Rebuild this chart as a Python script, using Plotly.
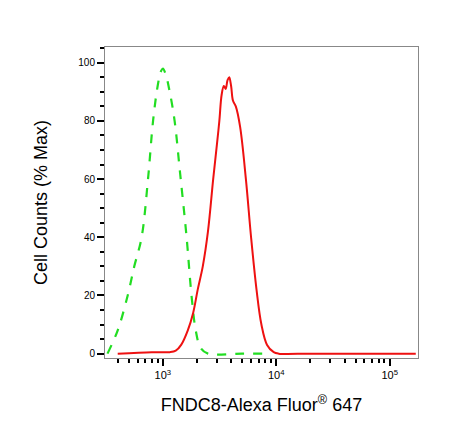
import plotly.graph_objects as go

iso_x = [325, 400, 490, 560, 650, 740, 820, 900, 960, 1000, 1060, 1150, 1270, 1420, 1620, 1790, 1950, 2150, 2500, 5000, 9000]
iso_y = [0, 8, 20, 30, 40, 60, 80, 92, 97, 98, 96, 90, 80, 62, 40, 20, 8, 2, 0, 0, 0]

ab_x = [400, 800, 1150, 1300, 1450, 1660, 1850, 2030, 2250, 2500, 2780, 3000, 3150, 3300, 3450, 3580, 3720, 3850, 4000, 4150, 4400, 4800, 5400, 6000, 6700, 7400, 8300, 9500, 10500, 20000, 60000, 170000]
ab_y = [0, 0.5, 0.5, 1, 3, 8, 14, 22, 30, 42, 60, 72, 80, 89, 92, 91, 94, 95, 92, 87, 85, 78, 60, 40, 22, 10, 3, 0.5, 0, 0, 0, 0]

fig = go.Figure()
fig.add_trace(go.Scatter(x=iso_x, y=iso_y, mode="lines", line=dict(color="#22dd22", width=2.2, dash="dash"), line_shape="spline"))
fig.add_trace(go.Scatter(x=ab_x, y=ab_y, mode="lines", line=dict(color="#ee1111", width=2), line_shape="spline"))

minor_x = []
for d in [100, 1000, 10000, 100000]:
    for m in range(2, 10):
        minor_x.append(d * m)

fig.update_layout(
    width=449, height=440, showlegend=False,
    paper_bgcolor="white", plot_bgcolor="white",
    margin=dict(l=97, r=39, t=39, b=90),
    font=dict(family="Liberation Sans, Arial", color="black"),
    xaxis=dict(type="log", range=[2.49, 5.25], tickvals=[1000, 10000, 100000],
               ticktext=["10<sup>3</sup>", "10<sup>4</sup>", "10<sup>5</sup>"],
               ticks="outside", ticklen=7, tickwidth=1.5, tickcolor="black",
               minor=dict(tickvals=minor_x, ticks="outside", ticklen=4, tickcolor="black"),
               showline=True, linecolor="#888", mirror=True, showgrid=False, zeroline=False,
               tickfont=dict(size=11), automargin=False,
               title=dict(text="FNDC8-Alexa Fluor<sup>®</sup> 647", font=dict(size=18), standoff=18)),
    yaxis=dict(range=[-1.5, 105.4], tickvals=[0, 20, 40, 60, 80, 100],
               ticks="outside", ticklen=7, tickwidth=1.5, tickcolor="black",
               minor=dict(dtick=5, ticks="outside", ticklen=4, tickcolor="black"),
               showline=True, linecolor="#888", mirror=True, showgrid=False, zeroline=False,
               tickfont=dict(size=10), automargin=False,
               title=dict(text="Cell Counts (% Max)", font=dict(size=18), standoff=26)),
)
fig.write_html("out.html")
